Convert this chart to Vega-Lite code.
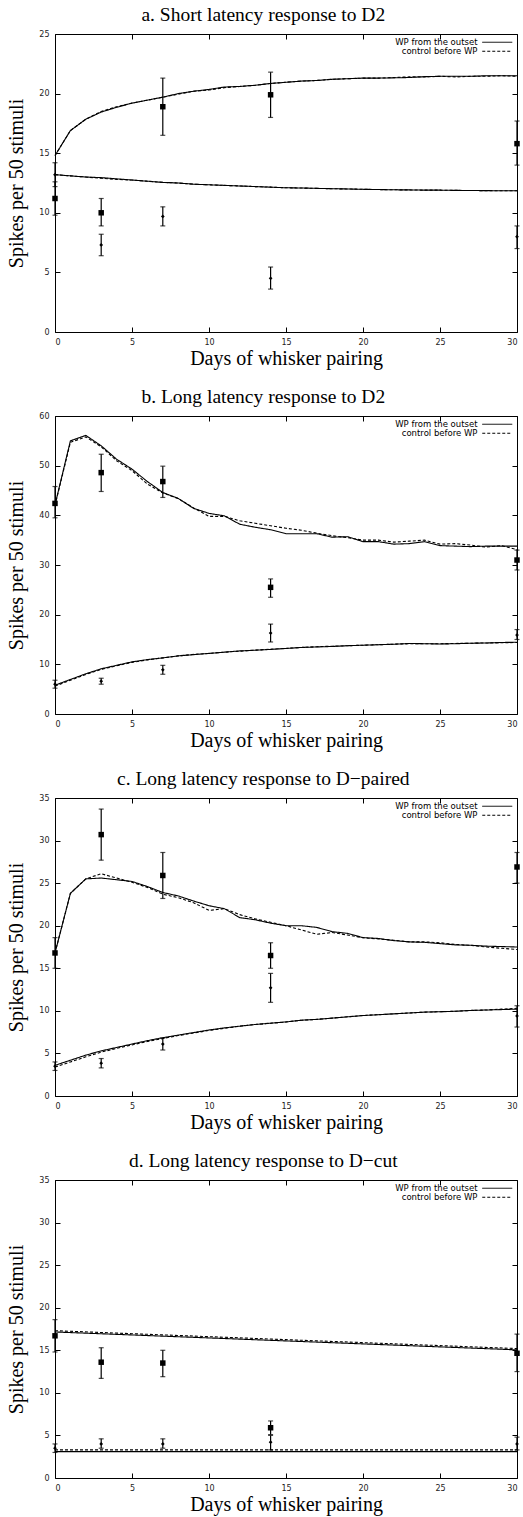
{
"$schema":"https://vega.github.io/schema/vega-lite/v6.json",
"padding":{"left":6,"right":2,"top":4,"bottom":1},
"spacing":17,
"config":{
 "view":{"stroke":"black","strokeWidth":1},
 "axis":{"labelFont":"DejaVu Sans","labelFontSize":8,"labelColor":"#222","tickColor":"black","tickSize":-5,"domain":false,"grid":false,"titleFont":"Liberation Serif","titleFontSize":20,"titleFontWeight":"normal","titleColor":"black","labelPadding":11},
 "axisX":{"titlePadding":2},
 "axisY":{"titlePadding":12},
 "title":{"font":"Liberation Serif","fontSize":19.5,"fontWeight":"normal","color":"black","frame":"bounds","anchor":"middle","offset":5},
 "legend":{"orient":"none","legendX":436,"legendY":2,"title":null,"labelFont":"DejaVu Sans","labelFontSize":8.5,"labelColor":"black","symbolType":"M-5,0H5","symbolStrokeColor":"black","symbolStrokeWidth":1,"symbolSize":36,"labelAlign":"right","labelOffset":-24,"rowPadding":-1.5,"padding":2}
},
"datasets":{
"curves":[
{"p":"a","c":"u","x":0,"wp":14.8,"ctrl":14.8},{"p":"a","c":"u","x":1,"wp":16.9,"ctrl":16.9},{"p":"a","c":"u","x":2,"wp":17.85,"ctrl":17.85},{"p":"a","c":"u","x":3,"wp":18.45,"ctrl":18.5},{"p":"a","c":"u","x":4,"wp":18.85,"ctrl":18.9},{"p":"a","c":"u","x":5,"wp":19.2,"ctrl":19.2},{"p":"a","c":"u","x":6,"wp":19.45,"ctrl":19.45},{"p":"a","c":"u","x":7,"wp":19.7,"ctrl":19.7},{"p":"a","c":"u","x":8,"wp":20.0,"ctrl":19.95},{"p":"a","c":"u","x":9,"wp":20.2,"ctrl":20.2},{"p":"a","c":"u","x":10,"wp":20.35,"ctrl":20.3},{"p":"a","c":"u","x":11,"wp":20.55,"ctrl":20.5},{"p":"a","c":"u","x":12,"wp":20.6,"ctrl":20.6},{"p":"a","c":"u","x":13,"wp":20.7,"ctrl":20.7},{"p":"a","c":"u","x":14,"wp":20.85,"ctrl":20.85},{"p":"a","c":"u","x":15,"wp":20.95,"ctrl":20.95},{"p":"a","c":"u","x":16,"wp":21.05,"ctrl":21.05},{"p":"a","c":"u","x":17,"wp":21.1,"ctrl":21.1},{"p":"a","c":"u","x":18,"wp":21.2,"ctrl":21.2},{"p":"a","c":"u","x":19,"wp":21.25,"ctrl":21.25},{"p":"a","c":"u","x":20,"wp":21.3,"ctrl":21.3},{"p":"a","c":"u","x":21,"wp":21.3,"ctrl":21.3},{"p":"a","c":"u","x":22,"wp":21.32,"ctrl":21.35},{"p":"a","c":"u","x":23,"wp":21.35,"ctrl":21.4},{"p":"a","c":"u","x":24,"wp":21.42,"ctrl":21.4},{"p":"a","c":"u","x":25,"wp":21.45,"ctrl":21.45},{"p":"a","c":"u","x":26,"wp":21.45,"ctrl":21.4},{"p":"a","c":"u","x":27,"wp":21.45,"ctrl":21.45},{"p":"a","c":"u","x":28,"wp":21.5,"ctrl":21.45},{"p":"a","c":"u","x":29,"wp":21.5,"ctrl":21.5},{"p":"a","c":"u","x":30,"wp":21.5,"ctrl":21.45},
{"p":"a","c":"l","x":0,"wp":13.2,"ctrl":13.2},{"p":"a","c":"l","x":1,"wp":13.1,"ctrl":13.1},{"p":"a","c":"l","x":2,"wp":13.0,"ctrl":13.0},{"p":"a","c":"l","x":3,"wp":12.95,"ctrl":12.9},{"p":"a","c":"l","x":4,"wp":12.85,"ctrl":12.8},{"p":"a","c":"l","x":5,"wp":12.75,"ctrl":12.75},{"p":"a","c":"l","x":6,"wp":12.65,"ctrl":12.65},{"p":"a","c":"l","x":7,"wp":12.55,"ctrl":12.55},{"p":"a","c":"l","x":8,"wp":12.5,"ctrl":12.5},{"p":"a","c":"l","x":9,"wp":12.4,"ctrl":12.4},{"p":"a","c":"l","x":10,"wp":12.35,"ctrl":12.35},{"p":"a","c":"l","x":11,"wp":12.3,"ctrl":12.3},{"p":"a","c":"l","x":12,"wp":12.25,"ctrl":12.25},{"p":"a","c":"l","x":13,"wp":12.2,"ctrl":12.2},{"p":"a","c":"l","x":14,"wp":12.15,"ctrl":12.15},{"p":"a","c":"l","x":15,"wp":12.1,"ctrl":12.1},{"p":"a","c":"l","x":16,"wp":12.08,"ctrl":12.08},{"p":"a","c":"l","x":17,"wp":12.05,"ctrl":12.05},{"p":"a","c":"l","x":18,"wp":12.02,"ctrl":12.02},{"p":"a","c":"l","x":19,"wp":12.0,"ctrl":12.0},{"p":"a","c":"l","x":20,"wp":11.97,"ctrl":11.97},{"p":"a","c":"l","x":21,"wp":11.95,"ctrl":11.95},{"p":"a","c":"l","x":22,"wp":11.93,"ctrl":11.93},{"p":"a","c":"l","x":23,"wp":11.92,"ctrl":11.92},{"p":"a","c":"l","x":24,"wp":11.9,"ctrl":11.9},{"p":"a","c":"l","x":25,"wp":11.9,"ctrl":11.9},{"p":"a","c":"l","x":26,"wp":11.88,"ctrl":11.88},{"p":"a","c":"l","x":27,"wp":11.87,"ctrl":11.87},{"p":"a","c":"l","x":28,"wp":11.86,"ctrl":11.86},{"p":"a","c":"l","x":29,"wp":11.85,"ctrl":11.85},{"p":"a","c":"l","x":30,"wp":11.85,"ctrl":11.85},
{"p":"b","c":"u","x":0,"wp":42.1,"ctrl":42.0},{"p":"b","c":"u","x":1,"wp":55.0,"ctrl":54.7},{"p":"b","c":"u","x":2,"wp":56.1,"ctrl":55.8},{"p":"b","c":"u","x":3,"wp":54.0,"ctrl":53.8},{"p":"b","c":"u","x":4,"wp":51.3,"ctrl":51.0},{"p":"b","c":"u","x":5,"wp":49.3,"ctrl":49.0},{"p":"b","c":"u","x":6,"wp":46.8,"ctrl":46.3},{"p":"b","c":"u","x":7,"wp":44.6,"ctrl":44.5},{"p":"b","c":"u","x":8,"wp":43.4,"ctrl":43.4},{"p":"b","c":"u","x":9,"wp":41.4,"ctrl":41.5},{"p":"b","c":"u","x":10,"wp":40.4,"ctrl":39.8},{"p":"b","c":"u","x":11,"wp":39.9,"ctrl":39.8},{"p":"b","c":"u","x":12,"wp":38.2,"ctrl":38.9},{"p":"b","c":"u","x":13,"wp":37.6,"ctrl":38.4},{"p":"b","c":"u","x":14,"wp":37.1,"ctrl":37.9},{"p":"b","c":"u","x":15,"wp":36.3,"ctrl":37.4},{"p":"b","c":"u","x":16,"wp":36.3,"ctrl":37.0},{"p":"b","c":"u","x":17,"wp":36.3,"ctrl":36.4},{"p":"b","c":"u","x":18,"wp":35.6,"ctrl":35.9},{"p":"b","c":"u","x":19,"wp":35.7,"ctrl":35.5},{"p":"b","c":"u","x":20,"wp":34.7,"ctrl":35.0},{"p":"b","c":"u","x":21,"wp":34.7,"ctrl":35.0},{"p":"b","c":"u","x":22,"wp":34.2,"ctrl":34.6},{"p":"b","c":"u","x":23,"wp":34.3,"ctrl":34.8},{"p":"b","c":"u","x":24,"wp":34.7,"ctrl":35.0},{"p":"b","c":"u","x":25,"wp":33.9,"ctrl":34.2},{"p":"b","c":"u","x":26,"wp":33.8,"ctrl":34.3},{"p":"b","c":"u","x":27,"wp":33.7,"ctrl":34.0},{"p":"b","c":"u","x":28,"wp":33.8,"ctrl":33.6},{"p":"b","c":"u","x":29,"wp":33.8,"ctrl":33.9},{"p":"b","c":"u","x":30,"wp":33.8,"ctrl":33.1},
{"p":"b","c":"l","x":0,"wp":5.8,"ctrl":5.6},{"p":"b","c":"l","x":1,"wp":6.95,"ctrl":6.8},{"p":"b","c":"l","x":2,"wp":8.1,"ctrl":7.95},{"p":"b","c":"l","x":3,"wp":9.1,"ctrl":9.0},{"p":"b","c":"l","x":4,"wp":9.8,"ctrl":9.7},{"p":"b","c":"l","x":5,"wp":10.5,"ctrl":10.4},{"p":"b","c":"l","x":6,"wp":10.95,"ctrl":10.9},{"p":"b","c":"l","x":7,"wp":11.3,"ctrl":11.3},{"p":"b","c":"l","x":8,"wp":11.7,"ctrl":11.7},{"p":"b","c":"l","x":9,"wp":11.95,"ctrl":12.0},{"p":"b","c":"l","x":10,"wp":12.2,"ctrl":12.2},{"p":"b","c":"l","x":11,"wp":12.45,"ctrl":12.45},{"p":"b","c":"l","x":12,"wp":12.7,"ctrl":12.65},{"p":"b","c":"l","x":13,"wp":12.85,"ctrl":12.85},{"p":"b","c":"l","x":14,"wp":13.0,"ctrl":13.05},{"p":"b","c":"l","x":15,"wp":13.2,"ctrl":13.2},{"p":"b","c":"l","x":16,"wp":13.4,"ctrl":13.4},{"p":"b","c":"l","x":17,"wp":13.5,"ctrl":13.55},{"p":"b","c":"l","x":18,"wp":13.6,"ctrl":13.65},{"p":"b","c":"l","x":19,"wp":13.75,"ctrl":13.75},{"p":"b","c":"l","x":20,"wp":13.85,"ctrl":13.85},{"p":"b","c":"l","x":21,"wp":13.95,"ctrl":13.95},{"p":"b","c":"l","x":22,"wp":14.05,"ctrl":14.05},{"p":"b","c":"l","x":23,"wp":14.2,"ctrl":14.15},{"p":"b","c":"l","x":24,"wp":14.15,"ctrl":14.15},{"p":"b","c":"l","x":25,"wp":14.1,"ctrl":14.15},{"p":"b","c":"l","x":26,"wp":14.15,"ctrl":14.2},{"p":"b","c":"l","x":27,"wp":14.25,"ctrl":14.25},{"p":"b","c":"l","x":28,"wp":14.3,"ctrl":14.3},{"p":"b","c":"l","x":29,"wp":14.4,"ctrl":14.35},{"p":"b","c":"l","x":30,"wp":14.45,"ctrl":14.4},
{"p":"c","c":"u","x":0,"wp":16.8,"ctrl":16.8},{"p":"c","c":"u","x":1,"wp":23.8,"ctrl":23.8},{"p":"c","c":"u","x":2,"wp":25.5,"ctrl":25.5},{"p":"c","c":"u","x":3,"wp":25.6,"ctrl":26.1},{"p":"c","c":"u","x":4,"wp":25.4,"ctrl":25.6},{"p":"c","c":"u","x":5,"wp":25.2,"ctrl":25.1},{"p":"c","c":"u","x":6,"wp":24.6,"ctrl":24.5},{"p":"c","c":"u","x":7,"wp":23.9,"ctrl":23.7},{"p":"c","c":"u","x":8,"wp":23.5,"ctrl":23.3},{"p":"c","c":"u","x":9,"wp":22.9,"ctrl":22.7},{"p":"c","c":"u","x":10,"wp":22.35,"ctrl":21.8},{"p":"c","c":"u","x":11,"wp":22.0,"ctrl":22.0},{"p":"c","c":"u","x":12,"wp":20.95,"ctrl":21.3},{"p":"c","c":"u","x":13,"wp":20.7,"ctrl":20.8},{"p":"c","c":"u","x":14,"wp":20.3,"ctrl":20.4},{"p":"c","c":"u","x":15,"wp":20.0,"ctrl":20.0},{"p":"c","c":"u","x":16,"wp":20.0,"ctrl":19.5},{"p":"c","c":"u","x":17,"wp":19.8,"ctrl":19.0},{"p":"c","c":"u","x":18,"wp":19.3,"ctrl":19.2},{"p":"c","c":"u","x":19,"wp":19.1,"ctrl":18.9},{"p":"c","c":"u","x":20,"wp":18.6,"ctrl":18.6},{"p":"c","c":"u","x":21,"wp":18.5,"ctrl":18.45},{"p":"c","c":"u","x":22,"wp":18.25,"ctrl":18.3},{"p":"c","c":"u","x":23,"wp":18.1,"ctrl":18.1},{"p":"c","c":"u","x":24,"wp":18.05,"ctrl":18.1},{"p":"c","c":"u","x":25,"wp":17.9,"ctrl":18.0},{"p":"c","c":"u","x":26,"wp":17.75,"ctrl":17.8},{"p":"c","c":"u","x":27,"wp":17.7,"ctrl":17.7},{"p":"c","c":"u","x":28,"wp":17.6,"ctrl":17.5},{"p":"c","c":"u","x":29,"wp":17.55,"ctrl":17.35},{"p":"c","c":"u","x":30,"wp":17.5,"ctrl":17.2},
{"p":"c","c":"l","x":0,"wp":3.6,"ctrl":3.4},{"p":"c","c":"l","x":1,"wp":4.2,"ctrl":4.0},{"p":"c","c":"l","x":2,"wp":4.8,"ctrl":4.6},{"p":"c","c":"l","x":3,"wp":5.3,"ctrl":5.15},{"p":"c","c":"l","x":4,"wp":5.7,"ctrl":5.6},{"p":"c","c":"l","x":5,"wp":6.1,"ctrl":6.0},{"p":"c","c":"l","x":6,"wp":6.5,"ctrl":6.4},{"p":"c","c":"l","x":7,"wp":6.85,"ctrl":6.75},{"p":"c","c":"l","x":8,"wp":7.15,"ctrl":7.1},{"p":"c","c":"l","x":9,"wp":7.45,"ctrl":7.4},{"p":"c","c":"l","x":10,"wp":7.75,"ctrl":7.7},{"p":"c","c":"l","x":11,"wp":8.0,"ctrl":7.95},{"p":"c","c":"l","x":12,"wp":8.2,"ctrl":8.2},{"p":"c","c":"l","x":13,"wp":8.4,"ctrl":8.4},{"p":"c","c":"l","x":14,"wp":8.55,"ctrl":8.55},{"p":"c","c":"l","x":15,"wp":8.7,"ctrl":8.7},{"p":"c","c":"l","x":16,"wp":8.9,"ctrl":8.9},{"p":"c","c":"l","x":17,"wp":9.0,"ctrl":9.0},{"p":"c","c":"l","x":18,"wp":9.15,"ctrl":9.15},{"p":"c","c":"l","x":19,"wp":9.3,"ctrl":9.3},{"p":"c","c":"l","x":20,"wp":9.45,"ctrl":9.45},{"p":"c","c":"l","x":21,"wp":9.55,"ctrl":9.55},{"p":"c","c":"l","x":22,"wp":9.65,"ctrl":9.65},{"p":"c","c":"l","x":23,"wp":9.75,"ctrl":9.75},{"p":"c","c":"l","x":24,"wp":9.85,"ctrl":9.85},{"p":"c","c":"l","x":25,"wp":9.9,"ctrl":9.9},{"p":"c","c":"l","x":26,"wp":9.95,"ctrl":9.95},{"p":"c","c":"l","x":27,"wp":10.05,"ctrl":10.05},{"p":"c","c":"l","x":28,"wp":10.1,"ctrl":10.1},{"p":"c","c":"l","x":29,"wp":10.15,"ctrl":10.2},{"p":"c","c":"l","x":30,"wp":10.2,"ctrl":10.3},
{"p":"d","c":"u","x":0,"wp":17.15,"ctrl":17.3},{"p":"d","c":"u","x":5,"wp":16.8,"ctrl":16.95},{"p":"d","c":"u","x":10,"wp":16.45,"ctrl":16.6},{"p":"d","c":"u","x":15,"wp":16.1,"ctrl":16.25},{"p":"d","c":"u","x":20,"wp":15.75,"ctrl":15.9},{"p":"d","c":"u","x":25,"wp":15.4,"ctrl":15.55},{"p":"d","c":"u","x":30,"wp":15.05,"ctrl":15.2},
{"p":"d","c":"l","x":0,"wp":3.1,"ctrl":3.3},{"p":"d","c":"l","x":5,"wp":3.1,"ctrl":3.3},{"p":"d","c":"l","x":10,"wp":3.1,"ctrl":3.3},{"p":"d","c":"l","x":15,"wp":3.1,"ctrl":3.3},{"p":"d","c":"l","x":20,"wp":3.1,"ctrl":3.3},{"p":"d","c":"l","x":25,"wp":3.1,"ctrl":3.3},{"p":"d","c":"l","x":30,"wp":3.1,"ctrl":3.3}
],
"points":[
{"p":"a","k":"sq","x":0,"y":11.2,"lo":9.8,"hi":12.6},{"p":"a","k":"sq","x":3,"y":10.0,"lo":8.9,"hi":11.2},{"p":"a","k":"sq","x":7,"y":18.9,"lo":16.5,"hi":21.3},{"p":"a","k":"sq","x":14,"y":19.9,"lo":18.0,"hi":21.8},{"p":"a","k":"sq","x":30,"y":15.8,"lo":14.0,"hi":17.7},
{"p":"a","k":"dm","x":0,"y":13.2,"lo":12.2,"hi":14.2},{"p":"a","k":"dm","x":3,"y":7.3,"lo":6.4,"hi":8.2},{"p":"a","k":"dm","x":7,"y":9.7,"lo":8.9,"hi":10.5},{"p":"a","k":"dm","x":14,"y":4.5,"lo":3.6,"hi":5.45},{"p":"a","k":"dm","x":30,"y":8.0,"lo":7.0,"hi":8.9},
{"p":"b","k":"sq","x":0,"y":42.4,"lo":39.5,"hi":45.8},{"p":"b","k":"sq","x":3,"y":48.6,"lo":44.8,"hi":52.3},{"p":"b","k":"sq","x":7,"y":46.8,"lo":43.6,"hi":49.9},{"p":"b","k":"sq","x":14,"y":25.5,"lo":23.5,"hi":27.2},{"p":"b","k":"sq","x":30,"y":31.0,"lo":29.0,"hi":33.0},
{"p":"b","k":"dm","x":0,"y":6.0,"lo":5.2,"hi":6.8},{"p":"b","k":"dm","x":3,"y":6.6,"lo":6.0,"hi":7.2},{"p":"b","k":"dm","x":7,"y":8.9,"lo":8.0,"hi":9.8},{"p":"b","k":"dm","x":14,"y":16.3,"lo":14.5,"hi":18.1},{"p":"b","k":"dm","x":30,"y":15.9,"lo":15.0,"hi":17.0},
{"p":"c","k":"sq","x":0,"y":16.8,"lo":15.0,"hi":18.6},{"p":"c","k":"sq","x":3,"y":30.7,"lo":27.7,"hi":33.7},{"p":"c","k":"sq","x":7,"y":25.9,"lo":23.2,"hi":28.6},{"p":"c","k":"sq","x":14,"y":16.5,"lo":15.0,"hi":18.0},{"p":"c","k":"sq","x":30,"y":26.9,"lo":25.0,"hi":28.6},
{"p":"c","k":"dm","x":0,"y":3.5,"lo":3.0,"hi":4.0},{"p":"c","k":"dm","x":3,"y":3.85,"lo":3.3,"hi":4.4},{"p":"c","k":"dm","x":7,"y":6.1,"lo":5.4,"hi":6.8},{"p":"c","k":"dm","x":14,"y":12.7,"lo":11.0,"hi":14.4},{"p":"c","k":"dm","x":30,"y":9.4,"lo":8.1,"hi":10.6},
{"p":"d","k":"sq","x":0,"y":16.7,"lo":14.8,"hi":18.6},{"p":"d","k":"sq","x":3,"y":13.6,"lo":11.7,"hi":15.3},{"p":"d","k":"sq","x":7,"y":13.5,"lo":11.9,"hi":15.0},{"p":"d","k":"sq","x":14,"y":5.9,"lo":5.1,"hi":6.7},{"p":"d","k":"sq","x":30,"y":14.65,"lo":12.5,"hi":16.9},
{"p":"d","k":"dm","x":0,"y":3.5,"lo":3.0,"hi":4.0},{"p":"d","k":"dm","x":3,"y":4.0,"lo":3.5,"hi":4.6},{"p":"d","k":"dm","x":7,"y":4.0,"lo":3.5,"hi":4.6},{"p":"d","k":"dm","x":14,"y":4.2,"lo":3.3,"hi":5.0},{"p":"d","k":"dm","x":30,"y":4.0,"lo":3.3,"hi":4.8}
]
},
"resolve":{"scale":{"strokeDash":"independent","y":"independent","x":"independent"},"legend":{"strokeDash":"independent"}},
"vconcat":[
{
 "width":462,"height":298,
 "title":"a. Short latency response to D2",
 "resolve":{"axis":{"x":"independent","y":"independent"}},
 "layer":[
  {"data":{"name":"curves"},
   "transform":[{"filter":"datum.p==='a'"},{"fold":["wp","ctrl"],"as":["series","val"]}],
   "mark":{"type":"line","color":"black","strokeWidth":1.1},
   "encoding":{
    "x":{"field":"x","type":"quantitative","scale":{"domain":[0,30],"nice":false},"axis":{"title":"Days of whisker pairing","values":[0,5,10,15,20,25,30]}},
    "y":{"field":"val","type":"quantitative","scale":{"domain":[0,25],"nice":false},"axis":{"title":"Spikes per 50 stimuli","values":[0,5,10,15,20,25]}},
    "detail":{"field":"c"},
    "strokeDash":{"field":"series","type":"nominal","scale":{"domain":["wp","ctrl"],"range":[[1,0],[3,2]]},"legend":{"labelExpr":"datum.label==='wp' ? 'WP from the outset' : 'control before WP'"}}
   }},
  {"data":{"name":"points"},
   "transform":[{"filter":"datum.p==='a'"}],
   "mark":{"type":"errorbar","ticks":{"size":5},"color":"black","thickness":1.2},
   "encoding":{"x":{"field":"x","type":"quantitative","axis":null},"y":{"field":"lo","type":"quantitative","axis":null},"y2":{"field":"hi"}}},
  {"data":{"name":"points"},
   "transform":[{"filter":"datum.p==='a'"}],
   "mark":{"type":"point","filled":true,"color":"black","opacity":1},
   "encoding":{
    "x":{"field":"x","type":"quantitative","axis":{"orient":"top","labels":false,"title":null,"values":[0,5,10,15,20,25,30]}},
    "y":{"field":"y","type":"quantitative","axis":{"orient":"right","labels":false,"title":null,"values":[0,5,10,15,20,25]}},
    "shape":{"field":"k","type":"nominal","scale":{"domain":["sq","dm"],"range":["square","diamond"]},"legend":null},
    "size":{"field":"k","type":"nominal","scale":{"domain":["sq","dm"],"range":[30,14]},"legend":null}
   }}
 ]
},
{
 "width":462,"height":298,
 "title":"b. Long latency response to D2",
 "resolve":{"axis":{"x":"independent","y":"independent"}},
 "layer":[
  {"data":{"name":"curves"},
   "transform":[{"filter":"datum.p==='b'"},{"fold":["wp","ctrl"],"as":["series","val"]}],
   "mark":{"type":"line","color":"black","strokeWidth":1.1},
   "encoding":{
    "x":{"field":"x","type":"quantitative","scale":{"domain":[0,30],"nice":false},"axis":{"title":"Days of whisker pairing","values":[0,5,10,15,20,25,30]}},
    "y":{"field":"val","type":"quantitative","scale":{"domain":[0,60],"nice":false},"axis":{"title":"Spikes per 50 stimuli","values":[0,10,20,30,40,50,60]}},
    "detail":{"field":"c"},
    "strokeDash":{"field":"series","type":"nominal","scale":{"domain":["wp","ctrl"],"range":[[1,0],[3,2]]},"legend":{"labelExpr":"datum.label==='wp' ? 'WP from the outset' : 'control before WP'"}}
   }},
  {"data":{"name":"points"},
   "transform":[{"filter":"datum.p==='b'"}],
   "mark":{"type":"errorbar","ticks":{"size":5},"color":"black","thickness":1.2},
   "encoding":{"x":{"field":"x","type":"quantitative","axis":null},"y":{"field":"lo","type":"quantitative","axis":null},"y2":{"field":"hi"}}},
  {"data":{"name":"points"},
   "transform":[{"filter":"datum.p==='b'"}],
   "mark":{"type":"point","filled":true,"color":"black","opacity":1},
   "encoding":{
    "x":{"field":"x","type":"quantitative","axis":{"orient":"top","labels":false,"title":null,"values":[0,5,10,15,20,25,30]}},
    "y":{"field":"y","type":"quantitative","axis":{"orient":"right","labels":false,"title":null,"values":[0,10,20,30,40,50,60]}},
    "shape":{"field":"k","type":"nominal","scale":{"domain":["sq","dm"],"range":["square","diamond"]},"legend":null},
    "size":{"field":"k","type":"nominal","scale":{"domain":["sq","dm"],"range":[30,14]},"legend":null}
   }}
 ]
},
{
 "width":462,"height":298,
 "title":"c. Long latency response to D\u2212paired",
 "resolve":{"axis":{"x":"independent","y":"independent"}},
 "layer":[
  {"data":{"name":"curves"},
   "transform":[{"filter":"datum.p==='c'"},{"fold":["wp","ctrl"],"as":["series","val"]}],
   "mark":{"type":"line","color":"black","strokeWidth":1.1},
   "encoding":{
    "x":{"field":"x","type":"quantitative","scale":{"domain":[0,30],"nice":false},"axis":{"title":"Days of whisker pairing","values":[0,5,10,15,20,25,30]}},
    "y":{"field":"val","type":"quantitative","scale":{"domain":[0,35],"nice":false},"axis":{"title":"Spikes per 50 stimuli","values":[0,5,10,15,20,25,30,35]}},
    "detail":{"field":"c"},
    "strokeDash":{"field":"series","type":"nominal","scale":{"domain":["wp","ctrl"],"range":[[1,0],[3,2]]},"legend":{"labelExpr":"datum.label==='wp' ? 'WP from the outset' : 'control before WP'"}}
   }},
  {"data":{"name":"points"},
   "transform":[{"filter":"datum.p==='c'"}],
   "mark":{"type":"errorbar","ticks":{"size":5},"color":"black","thickness":1.2},
   "encoding":{"x":{"field":"x","type":"quantitative","axis":null},"y":{"field":"lo","type":"quantitative","axis":null},"y2":{"field":"hi"}}},
  {"data":{"name":"points"},
   "transform":[{"filter":"datum.p==='c'"}],
   "mark":{"type":"point","filled":true,"color":"black","opacity":1},
   "encoding":{
    "x":{"field":"x","type":"quantitative","axis":{"orient":"top","labels":false,"title":null,"values":[0,5,10,15,20,25,30]}},
    "y":{"field":"y","type":"quantitative","axis":{"orient":"right","labels":false,"title":null,"values":[0,5,10,15,20,25,30,35]}},
    "shape":{"field":"k","type":"nominal","scale":{"domain":["sq","dm"],"range":["square","diamond"]},"legend":null},
    "size":{"field":"k","type":"nominal","scale":{"domain":["sq","dm"],"range":[30,14]},"legend":null}
   }}
 ]
},
{
 "width":462,"height":298,
 "title":"d. Long latency response to D\u2212cut",
 "resolve":{"axis":{"x":"independent","y":"independent"}},
 "layer":[
  {"data":{"name":"curves"},
   "transform":[{"filter":"datum.p==='d'"},{"fold":["wp","ctrl"],"as":["series","val"]}],
   "mark":{"type":"line","color":"black","strokeWidth":1.1},
   "encoding":{
    "x":{"field":"x","type":"quantitative","scale":{"domain":[0,30],"nice":false},"axis":{"title":"Days of whisker pairing","values":[0,5,10,15,20,25,30]}},
    "y":{"field":"val","type":"quantitative","scale":{"domain":[0,35],"nice":false},"axis":{"title":"Spikes per 50 stimuli","values":[0,5,10,15,20,25,30,35]}},
    "detail":{"field":"c"},
    "strokeDash":{"field":"series","type":"nominal","scale":{"domain":["wp","ctrl"],"range":[[1,0],[3,2]]},"legend":{"labelExpr":"datum.label==='wp' ? 'WP from the outset' : 'control before WP'"}}
   }},
  {"data":{"name":"points"},
   "transform":[{"filter":"datum.p==='d'"}],
   "mark":{"type":"errorbar","ticks":{"size":5},"color":"black","thickness":1.2},
   "encoding":{"x":{"field":"x","type":"quantitative","axis":null},"y":{"field":"lo","type":"quantitative","axis":null},"y2":{"field":"hi"}}},
  {"data":{"name":"points"},
   "transform":[{"filter":"datum.p==='d'"}],
   "mark":{"type":"point","filled":true,"color":"black","opacity":1},
   "encoding":{
    "x":{"field":"x","type":"quantitative","axis":{"orient":"top","labels":false,"title":null,"values":[0,5,10,15,20,25,30]}},
    "y":{"field":"y","type":"quantitative","axis":{"orient":"right","labels":false,"title":null,"values":[0,5,10,15,20,25,30,35]}},
    "shape":{"field":"k","type":"nominal","scale":{"domain":["sq","dm"],"range":["square","diamond"]},"legend":null},
    "size":{"field":"k","type":"nominal","scale":{"domain":["sq","dm"],"range":[30,14]},"legend":null}
   }}
 ]
}
]
}
